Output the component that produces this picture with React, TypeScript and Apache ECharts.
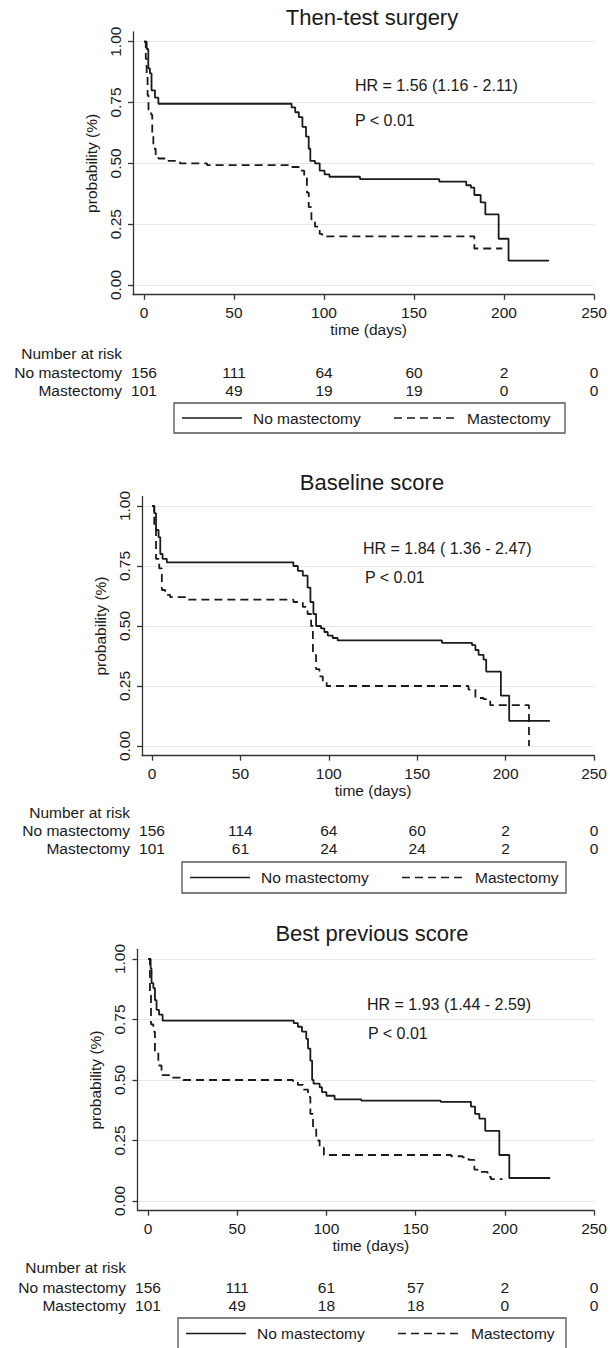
import React, { useEffect, useRef } from 'react';
import * as echarts from 'echarts';

// ---------------- DATA ----------------
const panelTitles = ['Then-test surgery', 'Baseline score', 'Best previous score'];
const hrTexts = ['HR = 1.56 (1.16 - 2.11)', 'HR = 1.84 ( 1.36 - 2.47)', 'HR = 1.93 (1.44 - 2.59)'];
const pTexts = ['P < 0.01', 'P < 0.01', 'P < 0.01'];
const groupNames = ['No mastectomy', 'Mastectomy'];
const riskHeader = 'Number at risk';
const xAxisName = 'time (days)';
const yAxisName = 'probability (%)';
const xTicks = [0, 50, 100, 150, 200, 250];
const xTickLabels = ['0', '50', '100', '150', '200', '250'];
const yTicks = [0, 0.25, 0.5, 0.75, 1];
const yTickLabels = ['0.00', '0.25', '0.50', '0.75', '1.00'];

const riskNoMast1 = [156, 111, 64, 60, 2, 0];
const riskMast1 = [101, 49, 19, 19, 0, 0];
const riskNoMast2 = [156, 114, 64, 60, 2, 0];
const riskMast2 = [101, 61, 24, 24, 2, 0];
const riskNoMast3 = [156, 111, 61, 57, 2, 0];
const riskMast3 = [101, 49, 18, 18, 0, 0];

const noMast1 = [
  [0, 1], [1.5, 0.97], [2.4, 0.89], [3.3, 0.87], [4.2, 0.8], [6.1, 0.77], [8, 0.745],
  [82, 0.73], [84, 0.71], [86, 0.69], [88, 0.65], [90, 0.61], [91.5, 0.56], [92.4, 0.51],
  [95, 0.5], [97.6, 0.47], [100.3, 0.455], [103, 0.445], [120, 0.435], [164, 0.425],
  [179, 0.41], [181.6, 0.4], [183.5, 0.37], [187, 0.34], [189.6, 0.29], [197, 0.19],
  [202.5, 0.1], [225, 0.1],
];
const mast1 = [
  [0, 1], [1, 0.93], [1.5, 0.86], [2, 0.78], [2.5, 0.72], [4, 0.7], [4.6, 0.62], [5.2, 0.56],
  [6.5, 0.53], [8, 0.52], [12, 0.51], [20, 0.5], [35, 0.493], [82, 0.485], [86, 0.47],
  [89, 0.44], [90.5, 0.38], [91.5, 0.32], [93, 0.27], [95, 0.24], [97.6, 0.21], [99, 0.2],
  [183.5, 0.15], [199, 0.15],
];
const noMast2 = [
  [0, 1], [1.3, 0.97], [2.3, 0.9], [3.75, 0.87], [4.7, 0.8], [6, 0.78], [8.4, 0.765],
  [80, 0.75], [82.5, 0.73], [85.3, 0.71], [88, 0.66], [89.6, 0.6], [91.3, 0.55], [92.8, 0.5],
  [95.6, 0.49], [97.5, 0.475], [99.4, 0.46], [102.2, 0.45], [105, 0.44], [164, 0.43],
  [181, 0.42], [182.9, 0.4], [184.7, 0.38], [187.5, 0.36], [189, 0.31], [197.3, 0.21],
  [202, 0.105], [225, 0.105],
];
const mast2 = [
  [0, 1], [1.3, 0.92], [2.3, 0.78], [4.1, 0.74], [5.6, 0.65], [7.5, 0.63], [10.3, 0.62],
  [19.7, 0.61], [80, 0.6], [85.3, 0.58], [88, 0.55], [90, 0.5], [91, 0.38], [92.8, 0.32],
  [94.7, 0.29], [96.6, 0.27], [98.8, 0.25], [179, 0.235], [182.9, 0.2], [187.5, 0.195],
  [191.3, 0.17], [213.2, 0],
];
const noMast3 = [
  [0, 1], [1.5, 0.96], [2, 0.9], [3, 0.88], [3.9, 0.83], [4.8, 0.79], [6.2, 0.77], [8.2, 0.745],
  [81.7, 0.735], [84, 0.72], [86.3, 0.7], [88.7, 0.67], [89.7, 0.63], [91, 0.58], [92, 0.5],
  [92.8, 0.485], [96.2, 0.47], [97.5, 0.45], [100, 0.435], [104.6, 0.42], [119.5, 0.415],
  [164, 0.41], [181, 0.39], [183.3, 0.36], [185.7, 0.34], [189, 0.29], [196.9, 0.19],
  [202.5, 0.095], [225.4, 0.095],
];
const mast3 = [
  [0, 1], [1.1, 0.85], [1.7, 0.73], [3, 0.7], [3.9, 0.62], [5.8, 0.56], [7.6, 0.52],
  [12.3, 0.51], [19.8, 0.5], [81.3, 0.495], [84, 0.48], [86.9, 0.46], [89.7, 0.43], [91, 0.36],
  [92.5, 0.3], [94.3, 0.25], [96.2, 0.22], [98.6, 0.19], [170, 0.185], [176.4, 0.18],
  [179.7, 0.17], [182.9, 0.13], [184.7, 0.12], [190.3, 0.1], [192.2, 0.09], [198.7, 0.09],
];

const curves = [[noMast1, mast1], [noMast2, mast2], [noMast3, mast3]];
const risks = [[riskNoMast1, riskMast1], [riskNoMast2, riskMast2], [riskNoMast3, riskMast3]];

// ---------------- LAYOUT ----------------
const FONT = '"Liberation Sans", Arial, Helvetica, sans-serif';
const INK = '#1a1a1a';
const AXIS = '#333333';
const layouts = [
  { axisX: 133, x0: 144, x250: 595, y1: 41.7, y0: 285, titleY: 17, hr: [355, 85], p: [355, 120], rowY: [353, 372, 390], legend: [174, 403, 391, 30] },
  { axisX: 142, x0: 152, x250: 596, y1: 506, y0: 746, titleY: 482, hr: [363, 548], p: [365, 577], rowY: [812, 830, 848], legend: [182, 862, 384, 31] },
  { axisX: 137.5, x0: 148, x250: 595, y1: 959, y0: 1201, titleY: 933, hr: [367, 1004], p: [368, 1033], rowY: [1267, 1287, 1305], legend: [178, 1318, 388, 31] },
];

function buildOption() {
  const grid: any[] = [];
  const xAxis: any[] = [];
  const yAxis: any[] = [];
  const series: any[] = [];
  const graphic: any[] = [];
  const txt = (text: string, x: number, y: number, size: number, align: string) => ({
    type: 'text',
    silent: true,
    style: {
      text, x, y, fill: INK, font: `${size}px ${FONT}`,
      align, verticalAlign: 'middle', textAlign: align, textVerticalAlign: 'middle',
    },
  });

  layouts.forEach((l, i) => {
    const scaleY = l.y0 - l.y1;
    const top = l.y1 - 0.04 * scaleY;
    const height = 1.08 * scaleY;
    const axisBottom = top + height;
    const pxPerDay = (l.x250 - l.x0) / 250;
    const xmin = -(l.x0 - l.axisX) / pxPerDay;
    grid.push({ left: l.axisX, top, width: l.x250 - l.axisX, height, containLabel: false });

    xAxis.push({
      type: 'value', gridIndex: i, min: xmin, max: 250, position: 'bottom',
      axisLine: { show: true, onZero: false, lineStyle: { color: AXIS, width: 1.3 } },
      axisTick: { show: true, length: 5, customValues: xTicks, lineStyle: { color: AXIS, width: 1.3 } },
      axisLabel: {
        customValues: xTicks, margin: 10, fontSize: 15.5, lineHeight: 16, color: INK, fontFamily: FONT,
        formatter: (v: number) => xTickLabels[Math.round(v / 50)],
      },
      splitLine: { show: false },
      name: xAxisName, nameLocation: 'middle', nameGap: 26,
      nameTextStyle: { fontSize: 15.5, lineHeight: 16, color: INK, fontFamily: FONT, padding: [0, 0, 0, 10] },
    });
    risks[i].forEach((arr, r) => {
      xAxis.push({
        type: 'value', gridIndex: i, min: xmin, max: 250, position: 'bottom',
        offset: l.rowY[r + 1] - axisBottom - 8,
        axisLine: { show: false }, axisTick: { show: false, customValues: xTicks }, splitLine: { show: false },
        axisLabel: {
          customValues: xTicks, margin: 0, fontSize: 15.5, lineHeight: 16, color: INK, fontFamily: FONT,
          formatter: (v: number) => String(arr[Math.round(v / 50)]),
        },
      });
    });

    yAxis.push({
      type: 'value', gridIndex: i, min: -0.04, max: 1.04,
      axisLine: { show: true, onZero: false, lineStyle: { color: AXIS, width: 1.3 } },
      axisTick: { show: true, length: 5, customValues: yTicks, lineStyle: { color: AXIS, width: 1.3 } },
      axisLabel: {
        customValues: yTicks, rotate: 90, margin: 10, fontSize: 15.5, lineHeight: 16, color: INK, fontFamily: FONT,
        formatter: (v: number) => yTickLabels[Math.round(v * 4)],
      },
      splitLine: { show: true, lineStyle: { color: '#e8e8e8', width: 1 } },
      name: yAxisName, nameLocation: 'middle', nameGap: 20,
      nameTextStyle: { fontSize: 15.5, lineHeight: 16, color: INK, fontFamily: FONT },
    });

    curves[i].forEach((data, s) => {
      series.push({
        type: 'line', name: groupNames[s], xAxisIndex: 3 * i, yAxisIndex: i,
        data, step: 'end', symbol: 'none', showSymbol: false, silent: true,
        lineStyle: { color: INK, width: 1.8, type: s === 0 ? 'solid' : [8, 5] },
      });
    });

    // title, HR, P
    graphic.push(txt(panelTitles[i], 372, l.titleY, 22, 'center'));
    graphic.push(txt(hrTexts[i], l.hr[0], l.hr[1], 16, 'left'));
    graphic.push(txt(pTexts[i], l.p[0], l.p[1], 16, 'left'));
    // risk table row labels
    const rx = l.x0 - 22;
    graphic.push(txt(riskHeader, rx, l.rowY[0], 15.5, 'right'));
    graphic.push(txt(groupNames[0], rx, l.rowY[1], 15.5, 'right'));
    graphic.push(txt(groupNames[1], rx, l.rowY[2], 15.5, 'right'));
    // legend box
    const [lx, ly, lw, lh] = l.legend;
    const cy = ly + lh / 2;
    graphic.push({ type: 'rect', silent: true, shape: { x: lx, y: ly, width: lw, height: lh }, style: { fill: '#fff', stroke: '#555', lineWidth: 1.3 } });
    graphic.push({ type: 'line', silent: true, shape: { x1: lx + 8, y1: cy, x2: lx + 68, y2: cy }, style: { stroke: INK, lineWidth: 1.5 } });
    graphic.push(txt(groupNames[0], lx + 79, cy, 15.5, 'left'));
    graphic.push({ type: 'line', silent: true, shape: { x1: lx + 220, y1: cy, x2: lx + 282, y2: cy }, style: { stroke: INK, lineWidth: 1.5, lineDash: [8, 5] } });
    graphic.push(txt(groupNames[1], lx + 293, cy, 15.5, 'left'));
  });

  return { animation: false, backgroundColor: '#ffffff', grid, xAxis, yAxis, series, graphic };
}

export default function App() {
  const ref = useRef<HTMLDivElement>(null);
  useEffect(() => {
    if (!ref.current) return;
    const chart = echarts.init(ref.current, undefined, { renderer: 'svg' });
    chart.setOption(buildOption() as any);
    return () => chart.dispose();
  }, []);
  return (
    <div
      ref={ref}
      style={{ position: 'absolute', left: 0, top: 0, width: 610, height: 1348, background: '#fff' }}
    />
  );
}
